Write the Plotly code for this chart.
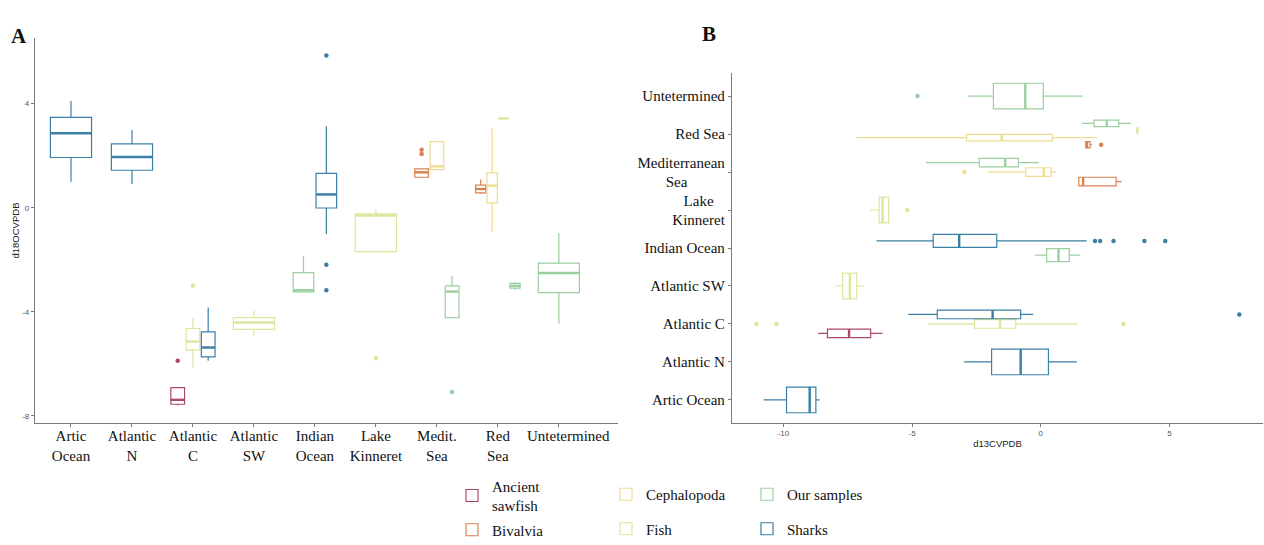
import plotly.graph_objects as go

# ---- categories -------------------------------------------------------
NB = "\u00a0"
regions = ["Artic Ocean", "Atlantic N", "Atlantic C", "Atlantic SW", "Indian Ocean",
           "Lake Kinneret", "Mediterranean Sea", "Red Sea", "Untetermined"]
labels_a = ["Artic<br>Ocean", "Atlantic<br>N", "Atlantic<br>C", "Atlantic<br>SW", "Indian<br>Ocean",
            "Lake<br>Kinneret", "Medit.<br>Sea", "Red<br>Sea", NB * 5 + "Untetermined"]
labels_b = ["Artic Ocean", "Atlantic N", "Atlantic C", "Atlantic SW", "Indian Ocean",
            "Lake" + NB * 3 + "<br>Kinneret", "Mediterranean<br>Sea" + NB * 9 + " ", "Red Sea",
            "Untetermined"]
groups = ["Ancient sawfish", "Bivalvia", "Cephalopoda", "Fish", "Our samples", "Sharks"]
group_text = ["Ancient<br>sawfish", "Bivalvia", "Cephalopoda", "Fish", "Our samples", "Sharks"]

# ---- d18O box statistics (panel A) -----------------------------------
o_region = ["Artic Ocean", "Atlantic N", "Atlantic C", "Atlantic C", "Atlantic C", "Atlantic SW",
            "Indian Ocean", "Indian Ocean", "Lake Kinneret", "Mediterranean Sea", "Mediterranean Sea",
            "Mediterranean Sea", "Red Sea", "Red Sea", "Red Sea", "Red Sea", "Untetermined"]
o_group = ["Sharks", "Sharks", "Ancient sawfish", "Fish", "Sharks", "Fish",
           "Our samples", "Sharks", "Fish", "Bivalvia", "Cephalopoda",
           "Our samples", "Bivalvia", "Cephalopoda", "Fish", "Our samples", "Our samples"]
o_lo = [1.00, 0.91, -7.60, -6.14, -5.88, -4.92, -3.26, -1.01, -1.69, 1.17, 1.46, -4.22,
        0.53, -0.92, 3.43, -3.15, -4.45]
o_q1 = [1.93, 1.44, -7.55, -5.47, -5.73, -4.67, -3.23, -0.01, -1.69, 1.17, 1.46, -4.22,
        0.57, 0.19, 3.43, -3.09, -3.26]
o_med = [2.86, 1.95, -7.38, -5.14, -5.37, -4.41, -3.17, 0.51, -0.30, 1.36, 1.59, -3.22,
         0.72, 0.85, 3.43, -3.00, -2.51]
o_q3 = [3.47, 2.45, -6.91, -4.64, -4.77, -4.22, -2.49, 1.32, -0.24, 1.49, 2.54, -3.00,
        0.87, 1.35, 3.43, -2.91, -2.13]
o_hi = [4.10, 2.99, -6.91, -4.22, -3.83, -3.96, -1.85, 3.13, -0.05, 1.49, 2.54, -2.62,
        1.08, 3.05, 3.43, -2.85, -0.97]
o_out_region = ["Atlantic C", "Atlantic C", "Indian Ocean", "Indian Ocean", "Indian Ocean",
                "Lake Kinneret", "Mediterranean Sea", "Mediterranean Sea", "Mediterranean Sea"]
o_out_group = ["Ancient sawfish", "Fish", "Sharks", "Sharks", "Sharks",
               "Fish", "Bivalvia", "Bivalvia", "Our samples"]
o_out_value = [-5.88, -3.00, 5.85, -2.19, -3.17, -5.78, 2.23, 2.06, -7.08]

# ---- d13C box statistics (panel B) -----------------------------------
c_region = list(o_region)
c_group = list(o_group)
c_lo = [-10.77, -2.98, -8.65, -4.37, -5.15, -7.98, -0.22, -6.38, -6.64, 1.48, -2.04, -4.46,
        1.75, -7.16, 3.76, 1.59, -2.84]
c_q1 = [-9.88, -1.91, -8.29, -2.58, -4.02, -7.70, 0.23, -4.18, -6.28, 1.48, -0.58, -2.39,
        1.75, -2.88, 3.76, 2.07, -1.84]
c_med = [-8.98, -0.78, -7.45, -1.58, -1.87, -7.42, 0.69, -3.17, -6.15, 1.65, 0.12, -1.38,
         1.80, -1.52, 3.76, 2.57, -0.60]
c_q3 = [-8.74, 0.30, -6.61, -0.97, -0.78, -7.15, 1.11, -1.71, -5.91, 2.93, 0.40, -0.87,
        1.92, 0.45, 3.76, 3.03, 0.10]
c_hi = [-8.59, 1.40, -6.15, 1.42, -0.29, -6.86, 1.53, 1.79, -5.91, 3.15, 0.60, -0.08,
        2.00, 2.18, 3.76, 3.50, 1.63]
c_out_region = ["Atlantic C", "Atlantic C", "Atlantic C", "Atlantic C", "Indian Ocean", "Indian Ocean",
                "Indian Ocean", "Indian Ocean", "Indian Ocean", "Lake Kinneret", "Mediterranean Sea",
                "Red Sea", "Untetermined"]
c_out_group = ["Fish", "Fish", "Fish", "Sharks", "Sharks", "Sharks", "Sharks", "Sharks", "Sharks",
               "Fish", "Cephalopoda", "Bivalvia", "Our samples"]
c_out_value = [-11.05, -10.27, 3.21, 7.72, 2.11, 2.31, 2.83, 4.03, 4.84, -5.19, -2.97, 2.35, -4.79]

# ---- styling ----------------------------------------------------------
colors = {"Ancient sawfish": "#AE4A63", "Bivalvia": "#D8834F", "Cephalopoda": "#EEDC93",
          "Fish": "#DCE69C", "Our samples": "#9CCFA0", "Sharks": "#3A7FA6"}
legend_of = {"Ancient sawfish": "legend", "Bivalvia": "legend", "Cephalopoda": "legend2",
             "Fish": "legend2", "Our samples": "legend3", "Sharks": "legend3"}
SERIF = "Liberation Serif"
SANS = "Liberation Sans"
W, H = 1264, 545
DODGE = 0.75


def dodge(reg_list, grp_list):
    """Centre and width of each box, dodging groups within a category."""
    out = []
    for r, g in zip(reg_list, grp_list):
        peers = sorted({gg for rr, gg in zip(reg_list, grp_list) if rr == r}, key=groups.index)
        k = len(peers)
        j = peers.index(g)
        slot = DODGE / k
        centre = regions.index(r) - DODGE / 2 + (j + 0.5) * slot
        out.append((centre, slot * 0.9))
    return out


fig = go.Figure()
shown = set()


def add_panel(reg, grp, lo, q1, med, q3, hi, out_reg, out_grp, out_val, horizontal, xa, ya):
    pos = dodge(reg, grp)
    for i, g in enumerate(grp):
        centre, w = pos[i]
        col = colors[g]
        first = g not in shown and not horizontal
        if first:
            shown.add(g)
        p = [centre]
        kw = dict(q1=[q1[i]], median=[med[i]], q3=[q3[i]], lowerfence=[lo[i]], upperfence=[hi[i]],
                  width=w, whiskerwidth=0, boxpoints=False, fillcolor="rgba(0,0,0,0)",
                  line=dict(color=col, width=1.2), name=group_text[groups.index(g)],
                  legendgroup=g, showlegend=first, legend=legend_of[g],
                  legendrank=groups.index(g), xaxis=xa, yaxis=ya, hoverinfo="skip")
        if horizontal:
            fig.add_trace(go.Box(y=p, orientation="h", **kw))
            fig.add_trace(go.Scatter(x=[med[i], med[i]], y=[centre - w / 2, centre + w / 2],
                                     mode="lines", line=dict(color=col, width=2.4),
                                     legendgroup=g, showlegend=False, xaxis=xa, yaxis=ya,
                                     hoverinfo="skip"))
        else:
            fig.add_trace(go.Box(x=p, orientation="v", **kw))
            fig.add_trace(go.Scatter(x=[centre - w / 2, centre + w / 2], y=[med[i], med[i]],
                                     mode="lines", line=dict(color=col, width=2.4),
                                     legendgroup=g, showlegend=False, xaxis=xa, yaxis=ya,
                                     hoverinfo="skip"))
    lookup = {(r, g): pos[i][0] for i, (r, g) in enumerate(zip(reg, grp))}
    for r, g, v in zip(out_reg, out_grp, out_val):
        c = lookup[(r, g)]
        xs, ys = ([v], [c]) if horizontal else ([c], [v])
        fig.add_trace(go.Scatter(x=xs, y=ys, mode="markers",
                                 marker=dict(color=colors[g], size=4.5),
                                 legendgroup=g, showlegend=False, xaxis=xa, yaxis=ya,
                                 hoverinfo="skip"))


add_panel(o_region, o_group, o_lo, o_q1, o_med, o_q3, o_hi,
          o_out_region, o_out_group, o_out_value, False, "x", "y")
add_panel(c_region, c_group, c_lo, c_q1, c_med, c_q3, c_hi,
          c_out_region, c_out_group, c_out_value, True, "x2", "y2")

axis_line = dict(showline=True, linecolor="#7a7a7a", linewidth=1.3, ticks="outside",
                 ticklen=3, tickcolor="#7a7a7a", showgrid=False, zeroline=False,
                 automargin=False, tickangle=0)
small = dict(family=SANS, size=8, color="#555555")
cat_font = dict(family=SERIF, size=15, color="#111111")

legend_base = dict(font=dict(family=SERIF, size=15, color="#111111"), bgcolor="rgba(0,0,0,0)",
                   yanchor="top", xanchor="left", itemwidth=30)

fig.update_layout(
    width=W, height=H, margin=dict(l=0, r=0, t=0, b=0, autoexpand=False),
    paper_bgcolor="white", plot_bgcolor="white",
    xaxis=dict(domain=[35 / W, 618 / W], anchor="y", range=[-0.59, 8.97],
               tickvals=list(range(len(regions))), ticktext=labels_a, tickfont=cat_font,
               ticklabelstandoff=-4, **axis_line),
    yaxis=dict(domain=[1 - 423 / H, 1 - 38 / H], anchor="x", range=[-8.27, 6.52],
               tickvals=[-8, -4, 0, 4], ticktext=["-8", "-4", "0", "4"], tickfont=small,
               title=dict(text="d18OCVPDB", font=dict(family=SANS, size=9.5, color="#222"),
                          standoff=0),
               **axis_line),
    xaxis2=dict(domain=[732 / W, 1263 / W], anchor="y2", range=[-12.0, 8.64],
                tickvals=[-10, -5, 0, 5], ticktext=["-10", "-5", "0", "5"], tickfont=small,
                title=dict(text="d13CVPDB", font=dict(family=SANS, size=9.5, color="#222"),
                           standoff=2),
                **axis_line),
    yaxis2=dict(domain=[1 - 422.7 / H, 1 - 73.3 / H], anchor="x2", range=[-0.6, 8.6],
                tickvals=list(range(len(regions))), ticktext=labels_b, tickfont=cat_font,
                **axis_line),
    legend=dict(x=452 / W, y=1 - 469.5 / H, tracegroupgap=2, **legend_base),
    legend2=dict(x=606 / W, y=1 - 478 / H, tracegroupgap=12, **legend_base),
    legend3=dict(x=747 / W, y=1 - 478 / H, tracegroupgap=12, **legend_base),
    annotations=[
        dict(text="<b>A</b>", x=9 / W, y=1 - 22 / H, xref="paper", yref="paper",
             xanchor="left", showarrow=False, font=dict(family=SERIF, size=21, color="#111")),
        dict(text="<b>B</b>", x=700 / W, y=1 - 20 / H, xref="paper", yref="paper",
             xanchor="left", showarrow=False, font=dict(family=SERIF, size=21, color="#111")),
    ],
)

fig.write_html("out.html")
